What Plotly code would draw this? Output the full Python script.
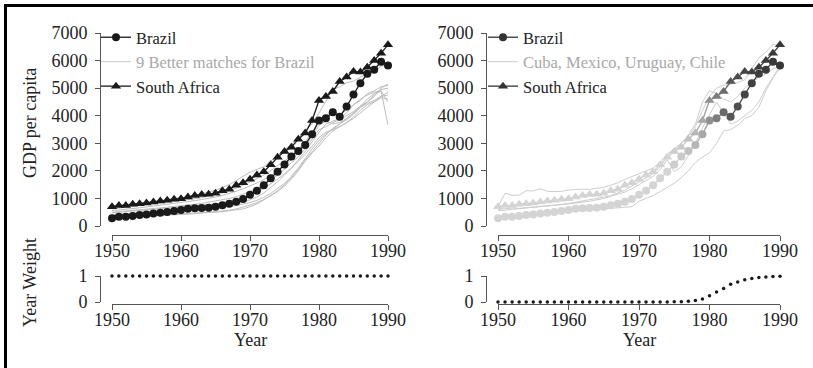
import plotly.graph_objects as go

W, H = 813, 368

years = [1950, 1951, 1952, 1953, 1954, 1955, 1956, 1957, 1958, 1959,
         1960, 1961, 1962, 1963, 1964, 1965, 1966, 1967, 1968, 1969,
         1970, 1971, 1972, 1973, 1974, 1975, 1976, 1977, 1978, 1979,
         1980, 1981, 1982, 1983, 1984, 1985, 1986, 1987, 1988, 1989,
         1990]

brazil = [280, 340, 340, 360, 400, 420, 450, 480, 510, 545,
          580, 630, 640, 650, 665, 700, 750, 810, 880, 980,
          1130, 1280, 1480, 1730, 1970, 2230, 2520, 2720, 2940, 3330,
          3830, 3910, 4130, 3960, 4330, 4770, 5180, 5520, 5670, 5960,
          5820]

south_africa = [700, 740, 740, 790, 810, 835, 870, 905, 930, 970,
                990, 1050, 1110, 1140, 1150, 1190, 1280, 1330, 1480, 1570,
                1700, 1850, 1970, 2220, 2490, 2700, 2860, 3150, 3370, 3830,
                4550, 4700, 4880, 5240, 5400, 5600, 5590, 5760, 6000, 6270,
                6570]

# nine better matches for Brazil (left panel)
match_1 = [720, 760, 790, 800, 830, 860, 900, 930, 960, 990,
           1020, 1060, 1100, 1160, 1220, 1300, 1400, 1500, 1650, 1800,
           1950, 2050, 2150, 2350, 2550, 2750, 2950, 3200, 3450, 3700,
           4100, 4500, 4950, 5050, 5200, 5250, 5400, 5500, 5600, 5800,
           5850]
match_2 = [620, 650, 680, 700, 730, 760, 790, 820, 850, 880,
           910, 950, 990, 1030, 1080, 1130, 1200, 1280, 1370, 1480,
           1600, 1720, 1850, 2000, 2200, 2350, 2550, 2800, 3050, 3400,
           3800, 4000, 4150, 4050, 4200, 4400, 4550, 4800, 4900, 5050,
           5100]
match_3 = [480, 500, 520, 540, 560, 580, 600, 620, 640, 660,
           680, 700, 720, 740, 770, 800, 840, 890, 950, 1030,
           1120, 1230, 1370, 1530, 1700, 1900, 2100, 2350, 2600, 2900,
           3200, 3400, 3500, 3600, 3750, 3900, 4100, 4300, 4500, 4700,
           4750]
match_4 = [400, 420, 440, 460, 480, 500, 520, 540, 560, 580,
           600, 620, 640, 660, 680, 700, 730, 760, 800, 860,
           950, 1050, 1200, 1400, 1600, 1850, 2100, 2400, 2700, 3050,
           3400, 3700, 3800, 3900, 4100, 4400, 4600, 4750, 4850, 4900,
           3650]
match_5 = [330, 340, 350, 360, 370, 380, 390, 400, 410, 420,
           430, 440, 450, 460, 480, 500, 520, 550, 580, 620,
           700, 800, 950, 1100, 1250, 1450, 1700, 2000, 2350, 2650,
           2900, 3200, 3450, 3600, 3750, 3950, 4200, 4400, 4500, 4650,
           4600]
match_6 = [560, 580, 600, 630, 660, 690, 720, 750, 780, 810,
           850, 880, 920, 960, 1000, 1050, 1110, 1180, 1260, 1350,
           1450, 1560, 1680, 1830, 2000, 2200, 2400, 2650, 2900, 3250,
           3650, 3800, 3700, 3750, 3900, 4100, 4350, 4600, 4800, 4950,
           5000]
match_7 = [380, 400, 410, 430, 450, 470, 490, 500, 520, 540,
           560, 570, 590, 600, 620, 640, 670, 700, 740, 790,
           850, 930, 1040, 1180, 1350, 1550, 1800, 2100, 2450, 2800,
           3100, 3350, 3500, 3700, 3850, 4050, 4300, 4500, 4750, 4900,
           4500]
match_8 = [500, 520, 540, 560, 580, 600, 630, 650, 680, 710,
           730, 760, 790, 820, 860, 900, 950, 1000, 1060, 1150,
           1250, 1370, 1500, 1650, 1850, 2050, 2300, 2500, 2800, 3150,
           3500, 3600, 3750, 3850, 4000, 4150, 4350, 4500, 4700, 5000,
           5150]
match_9 = [300, 310, 320, 330, 340, 350, 360, 380, 390, 400,
           420, 430, 450, 470, 490, 510, 540, 570, 620, 680,
           760, 850, 960, 1100, 1280, 1500, 1750, 2050, 2400, 2700,
           3000, 3300, 3550, 3700, 3900, 4100, 4300, 4450, 4550, 4700,
           4850]
left_matches = [match_1, match_2, match_3, match_4, match_5,
                match_6, match_7, match_8, match_9]

# Cuba, Mexico, Uruguay, Chile (right panel)
right_1 = [700, 1190, 1110, 1120, 1280, 1270, 1350, 1260, 1250, 1260,
           1300, 1330, 1330, 1330, 1370, 1400, 1480, 1570, 1690, 1800,
           1900, 2000, 2100, 2300, 2600, 2800, 3000, 3300, 3700, 4500,
           4900, 4800, 4600, 4500, 4700, 5000, 5200, 5400, 5500, 5700,
           5800]
right_2 = [600, 620, 650, 640, 660, 700, 720, 740, 760, 780,
           800, 830, 860, 900, 950, 1000, 1080, 1150, 1230, 1350,
           1500, 1650, 1800, 2050, 2400, 1970, 2150, 2550, 3000, 3550,
           4000, 4500, 4100, 3700, 3800, 4000, 4200, 4500, 5000, 5400,
           5700]
right_3 = [550, 580, 600, 620, 650, 680, 700, 720, 750, 780,
           820, 860, 900, 950, 1000, 1050, 1100, 1200, 1300, 1450,
           1600, 1750, 1900, 2150, 2500, 2750, 3000, 3250, 3600, 4200,
           4700, 5000, 5100, 5150, 5200, 5300, 5700, 6100, 6300, 6600,
           6500]
right_4 = [330, 350, 370, 390, 410, 430, 450, 470, 490, 510,
           530, 550, 570, 590, 610, 630, 650, 670, 690, 700,
           900, 1000, 1100, 1250, 1400, 1550, 1750, 2000, 2300, 2500,
           2650, 3000, 3450, 3500, 3650, 3900, 4000, 4300, 4900, 5400,
           5850]
right_matches = [right_1, right_2, right_3, right_4]

weight_left = [1, 1, 1, 1, 1, 1, 1, 1, 1, 1,
               1, 1, 1, 1, 1, 1, 1, 1, 1, 1,
               1, 1, 1, 1, 1, 1, 1, 1, 1, 1,
               1, 1, 1, 1, 1, 1, 1, 1, 1, 1,
               1]
weight_right = [0, 0, 0, 0, 0, 0, 0, 0, 0, 0,
                0, 0, 0, 0, 0, 0, 0, 0, 0, 0,
                0, 0, 0, 0, 0, 0.005, 0.01, 0.03, 0.06, 0.12,
                0.24, 0.38, 0.52, 0.68, 0.77, 0.86, 0.9, 0.94, 0.96, 0.98,
                0.99]

x_ticks = [1950, 1960, 1970, 1980, 1990]
gdp_ticks = [0, 1000, 2000, 3000, 4000, 5000, 6000, 7000]
weight_ticks = [0, 1]

FONT = "Liberation Serif"
DARK = "#1a1a1a"


def shade(w):
    lo, hi = 212, 55
    v = int(round(lo + (hi - lo) * (w ** 0.6)))
    return f"rgb({v},{v},{v})"


def px(p):
    return p / W


def py(p):
    return 1 - p / H


fig = go.Figure()

# ---------------- left top panel ----------------
for m in left_matches:
    fig.add_trace(go.Scatter(x=years, y=m, mode="lines",
                             line=dict(color="#bdbdbd", width=1),
                             xaxis="x", yaxis="y", showlegend=False,
                             hoverinfo="skip"))
fig.add_trace(go.Scatter(x=years, y=brazil, mode="lines+markers",
                         line=dict(color=DARK, width=1.3),
                         marker=dict(symbol="circle", size=8, color=DARK),
                         xaxis="x", yaxis="y", showlegend=False, cliponaxis=False))
fig.add_trace(go.Scatter(x=years, y=south_africa, mode="lines+markers",
                         line=dict(color=DARK, width=1.3),
                         marker=dict(symbol="triangle-up", size=9, color=DARK),
                         xaxis="x", yaxis="y", showlegend=False, cliponaxis=False))

# legend entries (left)
fig.add_trace(go.Scatter(x=[None], y=[None], mode="lines+markers", name="Brazil",
                         line=dict(color=DARK, width=1.3),
                         marker=dict(symbol="circle", size=8, color=DARK),
                         xaxis="x", yaxis="y", legend="legend"))
fig.add_trace(go.Scatter(x=[None], y=[None], mode="lines",
                         name="<span style='color:#a8a8a8'>9 Better matches for Brazil</span>",
                         line=dict(color="#c8c8c8", width=1),
                         xaxis="x", yaxis="y", legend="legend"))
fig.add_trace(go.Scatter(x=[None], y=[None], mode="lines+markers", name="South Africa",
                         line=dict(color=DARK, width=1.3),
                         marker=dict(symbol="triangle-up", size=9, color=DARK),
                         xaxis="x", yaxis="y", legend="legend"))

# ---------------- right top panel ----------------
for m in right_matches:
    fig.add_trace(go.Scatter(x=years, y=m, mode="lines",
                             line=dict(color="#cdcdcd", width=1),
                             xaxis="x2", yaxis="y2", showlegend=False,
                             hoverinfo="skip"))
for series, sym, size in [(brazil, "circle", 8), (south_africa, "triangle-up", 9)]:
    for i in range(len(years) - 1):
        w = (weight_right[i] + weight_right[i + 1]) / 2
        fig.add_trace(go.Scatter(x=years[i:i + 2], y=series[i:i + 2], mode="lines",
                                 line=dict(color=shade(w), width=1.3),
                                 xaxis="x2", yaxis="y2", showlegend=False,
                                 hoverinfo="skip"))
    fig.add_trace(go.Scatter(x=years, y=series, mode="markers",
                             marker=dict(symbol=sym, size=size,
                                         color=[shade(w) for w in weight_right]),
                             xaxis="x2", yaxis="y2", showlegend=False, cliponaxis=False))

# legend entries (right)
fig.add_trace(go.Scatter(x=[None], y=[None], mode="lines+markers", name="Brazil",
                         line=dict(color="#333333", width=1.3),
                         marker=dict(symbol="circle", size=8, color="#333333"),
                         xaxis="x2", yaxis="y2", legend="legend2"))
fig.add_trace(go.Scatter(x=[None], y=[None], mode="lines",
                         name="<span style='color:#a8a8a8'>Cuba, Mexico, Uruguay, Chile</span>",
                         line=dict(color="#cdcdcd", width=1),
                         xaxis="x2", yaxis="y2", legend="legend2"))
fig.add_trace(go.Scatter(x=[None], y=[None], mode="lines+markers", name="South Africa",
                         line=dict(color="#333333", width=1.3),
                         marker=dict(symbol="triangle-up", size=9, color="#333333"),
                         xaxis="x2", yaxis="y2", legend="legend2"))

# ---------------- weight panels ----------------
fig.add_trace(go.Scatter(x=years, y=weight_left, mode="markers",
                         marker=dict(size=3.5, color=DARK),
                         xaxis="x3", yaxis="y3", showlegend=False, cliponaxis=False))
fig.add_trace(go.Scatter(x=years, y=weight_right, mode="markers",
                         marker=dict(size=3.5, color=DARK),
                         xaxis="x4", yaxis="y4", showlegend=False, cliponaxis=False))

axis_common = dict(showline=True, linecolor="#555555", linewidth=1,
                   ticks="outside", ticklen=5, tickcolor="#555555", tickwidth=1,
                   showgrid=False, zeroline=False, automargin=False,
                   tickfont=dict(family=FONT, size=18, color="#222222"))
xa = dict(ticklabelstandoff=-6, **axis_common)
ya = dict(ticklabelstandoff=4, **axis_common)

LX = [px(112), px(388)]
RX = [px(498), px(780)]
TOPY = [py(226), py(33)]
BOTY = [py(302), py(276)]

fig.update_layout(
    template="none",
    width=W, height=H,
    margin=dict(l=0, r=0, t=0, b=0, autoexpand=False),
    paper_bgcolor="white", plot_bgcolor="white",
    font=dict(family=FONT, size=17, color="#222222"),
    xaxis=dict(domain=LX, range=[1950, 1990], tickvals=x_ticks,
               anchor="free", position=py(235), **xa),
    yaxis=dict(domain=TOPY, range=[0, 7000], tickvals=gdp_ticks,
               anchor="free", position=px(100), **ya),
    xaxis2=dict(domain=RX, range=[1950, 1990], tickvals=x_ticks,
                anchor="free", position=py(235), **xa),
    yaxis2=dict(domain=TOPY, range=[0, 7000], tickvals=gdp_ticks,
                anchor="free", position=px(486), **ya),
    xaxis3=dict(domain=LX, range=[1950, 1990], tickvals=x_ticks,
                anchor="free", position=py(304), **xa),
    yaxis3=dict(domain=BOTY, range=[0, 1], tickvals=weight_ticks,
                anchor="free", position=px(100), **ya),
    xaxis4=dict(domain=RX, range=[1950, 1990], tickvals=x_ticks,
                anchor="free", position=py(304), **xa),
    yaxis4=dict(domain=BOTY, range=[0, 1], tickvals=weight_ticks,
                anchor="free", position=px(486), **ya),
    legend=dict(x=px(96), y=py(20), xanchor="left", yanchor="top",
                bgcolor="rgba(0,0,0,0)", borderwidth=0, itemwidth=30, tracegroupgap=0,
                font=dict(family=FONT, size=16.5, color="#222222")),
    legend2=dict(x=px(483), y=py(20), xanchor="left", yanchor="top",
                 bgcolor="rgba(0,0,0,0)", borderwidth=0, itemwidth=30, tracegroupgap=0,
                 font=dict(family=FONT, size=16.5, color="#222222")),
    showlegend=True,
)

annos = [
    dict(text="GDP per capita", x=px(30), y=py(123), textangle=-90),
    dict(text="Year Weight", x=px(30), y=py(283), textangle=-90),
    dict(text="Year", x=px(250), y=py(340)),
    dict(text="Year", x=px(639), y=py(340)),
]
for a in annos:
    fig.add_annotation(xref="paper", yref="paper", showarrow=False,
                       xanchor="center", yanchor="middle",
                       font=dict(family=FONT, size=18, color="#222222"), **a)

# outer frame of the figure: only its top and left edges fall inside the picture
fig.add_shape(type="line", xref="paper", yref="paper",
              x0=px(4), x1=1, y0=py(5.5), y1=py(5.5),
              line=dict(color="black", width=3))
fig.add_shape(type="line", xref="paper", yref="paper",
              x0=px(5.5), x1=px(5.5), y0=py(4), y1=0,
              line=dict(color="black", width=3))

fig.write_html(
    "out.html",
    config={"displayModeBar": False},
    post_script=("document.documentElement.style.overflow='hidden';"
                 "document.body.style.overflow='hidden';"
                 "document.body.style.margin='0';"),
)
